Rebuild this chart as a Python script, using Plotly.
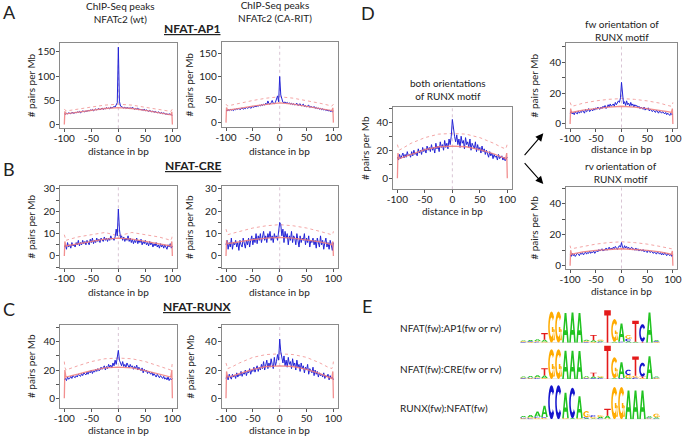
import math
import plotly.graph_objects as go

W, H = 683, 436
FONT = "Lato, 'Open Sans', sans-serif"

# ---------------- data ----------------
dist = list(range(-100, 101, 2))
exp_dist = [-100, -99, -97, -90, -75, -50, -25, 0, 25, 50, 75, 90, 97, 99, 100]

ap1_wt_obs = [22, 21, 23, 22, 24, 23, 22, 25, 24, 23, 25,
              24, 26, 25, 27, 24, 26, 28, 27, 26, 28,
              27, 29, 28, 30, 29, 31, 28, 30, 32, 30,
              31, 33, 30, 32, 34, 31, 33, 32, 35, 33,
              34, 32, 36, 34, 35, 37, 36, 40, 45,
              160,
              48, 38, 36, 35, 34, 36, 33, 35, 34,
              33, 35, 32, 36, 34, 31, 33, 32, 34, 30,
              32, 30, 31, 29, 32, 28, 30, 29, 27, 29,
              28, 26, 28, 25, 27, 26, 24, 26, 25, 23,
              25, 22, 24, 23, 21, 22, 20, 22, 21, 20, 19]
ap1_wt_exp = [0, 27, 22, 23, 26, 30, 33, 35, 33, 29, 25, 22, 20, 26, 0]
ap1_wt_up = [32, 30, 28, 29, 32, 36, 40, 42, 40, 36, 32, 29, 27, 30, 32]

ap1_ca_obs = [27, 25, 28, 26, 29, 27, 28, 26, 29, 28, 30,
              29, 31, 28, 30, 32, 29, 31, 30, 33, 31,
              32, 34, 31, 33, 35, 33, 36, 34, 37, 35,
              38, 36, 39, 37, 40, 38, 42, 39, 47, 41,
              40, 43, 48, 42, 41, 44, 50, 58, 45,
              100,
              60, 48, 44, 43, 45, 42, 44, 41, 43,
              40, 42, 39, 41, 38, 40, 42, 37, 39, 41,
              36, 38, 40, 35, 37, 34, 36, 38, 33, 35,
              34, 32, 35, 31, 33, 30, 32, 29, 31, 28,
              30, 27, 29, 26, 28, 25, 27, 24, 26, 23, 25]
ap1_ca_exp = [0, 33, 27, 28, 31, 36, 40, 43, 40, 35, 31, 28, 26, 32, 0]
ap1_ca_up = [40, 38, 36, 38, 42, 48, 53, 56, 53, 48, 42, 38, 36, 38, 40]

cre_wt_obs = [4, 5, 3, 6, 4, 5, 3.5, 6, 4.5, 5, 4,
              6, 5, 7, 4.5, 6, 5, 7, 5.5, 6.5, 5,
              7, 6, 5, 7.5, 6, 8, 5.5, 7, 6, 8,
              6.5, 7.5, 6, 8, 7, 6.5, 8.5, 7, 8, 6.5,
              8, 7, 9, 7.5, 8, 7, 8.5, 12, 9,
              21,
              12, 8, 9, 7, 8.5, 6.5, 8, 7, 9,
              6.5, 8, 6, 7.5, 5.5, 7, 6, 8, 5.5, 7,
              6, 7.5, 5, 6.5, 5.5, 7, 5, 6, 4.5, 6.5,
              5, 6, 4, 5.5, 4.5, 6, 4, 5, 3.5, 5.5,
              4, 5, 3.5, 5, 4, 3, 5, 4, 5.5, 3.5, 4.5]
cre_wt_exp = [0, 6.5, 4.5, 4.8, 5.5, 6.5, 7.5, 8, 7.5, 6.5, 5.5, 4.8, 4.5, 6.5, 0]
cre_wt_up = [9.5, 8, 7, 7.5, 8.5, 9.5, 10.5, 9, 10.5, 9.5, 8.5, 7.5, 7, 8, 10]

cre_ca_obs = [5, 7, 3, 6, 4, 8, 3, 6, 5, 7, 4,
              6, 2.5, 7, 5, 4, 8, 6, 3.5, 7, 5,
              8, 4, 7, 9, 5, 8, 6, 10, 5.5, 9,
              7, 10, 6, 9, 11, 7, 9, 6, 10, 8,
              11, 7, 9, 6, 10, 8, 9, 7, 12,
              15,
              14, 9, 12, 6, 11, 8, 10, 5, 9,
              7, 11, 6, 9, 8, 5, 10, 7, 4, 9,
              6, 8, 7, 10, 5, 8, 6, 9, 4, 7,
              6, 8, 5, 7, 3.5, 8, 6, 4, 9, 5,
              7, 3, 6, 8, 4, 6, 3, 7, 5, 2.5, 6]
cre_ca_exp = [0, 7, 5.5, 5.8, 6.5, 7.3, 8, 8.3, 8, 7.3, 6.3, 5.5, 5, 6.5, 0]
cre_ca_up = [12, 11, 9.5, 10, 11, 12.5, 13.5, 14, 13.5, 12.5, 11, 10, 9.5, 10, 11]

runx_wt_obs = [13, 14, 12.5, 15, 13.5, 14, 15.5, 14, 16, 15, 14.5,
               16, 15, 17, 16, 15.5, 17.5, 16, 18, 17, 16.5,
               18.5, 17, 19, 18, 20, 17.5, 19.5, 18.5, 20.5, 19,
               21, 19.5, 20, 22, 20.5, 21.5, 23, 20, 22.5, 21,
               24, 22, 23.5, 21.5, 25, 23, 27, 24, 28,
               34,
               27, 25, 23, 26, 22.5, 24, 22, 25, 23,
               21.5, 24, 22, 23, 20.5, 22.5, 21, 23.5, 20, 22,
               21, 19.5, 21.5, 18, 20.5, 19, 20, 17.5, 19, 18,
               17, 18.5, 16, 17.5, 16.5, 15, 17, 16, 14.5, 16,
               15, 14, 15.5, 13.5, 14.5, 13, 15, 12.5, 14, 13, 14]
runx_wt_exp = [0, 20, 15, 15.5, 17, 19.5, 21.5, 22, 21.5, 19.5, 17, 15.5, 15, 20, 0]
runx_wt_up = [26, 22, 20, 21, 23, 26, 28, 28.5, 28, 26, 23, 21, 20, 22, 26]

runx_ca_obs = [14, 16, 13, 17, 15, 13.5, 17, 15, 16.5, 14, 18,
               15, 17, 16, 19, 15.5, 18, 17, 20, 16, 19,
               18, 21, 17, 20, 19, 22, 18.5, 21, 23, 19,
               22, 20, 24, 21, 26, 20, 23, 27, 21, 25,
               22, 28, 24, 21, 29, 23, 26, 31, 27,
               42,
               33, 28, 25, 30, 23, 27, 22, 29, 24,
               26, 21, 28, 23, 25, 20, 27, 22, 24, 19,
               25, 21, 23, 18, 22, 20, 24, 17, 21, 19,
               18, 22, 16, 20, 17, 19, 15, 18, 16, 17,
               15, 18, 14, 16, 15, 17, 13, 16, 14, 15, 13]
runx_ca_exp = [0, 19, 15, 15.5, 17.5, 20.5, 22.5, 23, 22.5, 20.5, 17.5, 15, 14, 19, 0]
runx_ca_up = [25, 23, 21, 22, 25, 29, 31, 31.5, 31, 29, 25, 22, 21, 23, 26]

both_obs = [15, 13, 17, 14, 16, 18, 14.5, 17, 15, 19, 16,
            17, 15, 19, 16, 20, 17, 18, 16, 21, 18,
            20, 17, 22, 19, 21, 18, 23, 20, 22, 19,
            24, 20, 22, 18, 25, 21, 23, 19, 26, 22,
            24, 20, 27, 22, 25, 21, 28, 24, 30,
            42,
            35, 30, 26, 31, 24, 28, 22, 30, 25,
            27, 21, 29, 24, 26, 22, 28, 20, 25, 23,
            21, 26, 19, 24, 20, 22, 18, 23, 19, 21,
            17, 20, 18, 15, 19, 16, 18, 14, 17, 15,
            16, 13, 17, 14, 15, 16, 13, 15, 12.5, 14, 15]
both_exp = [0, 18, 14, 15, 17.5, 20.5, 22.5, 23, 22.5, 20.5, 17.5, 15, 14, 18, 0]
both_up = [24, 22, 20, 21.5, 25, 29, 31.5, 32, 31.5, 29, 25, 22, 21, 23, 25]

fw_obs = [7, 8, 6.5, 7.5, 6, 8, 7, 6.5, 8.5, 7, 8,
          7.5, 9, 8, 7, 9.5, 8, 8.5, 10, 8, 9,
          9.5, 8.5, 10, 9, 10.5, 9.5, 11, 10, 9.5, 11,
          10, 11.5, 10.5, 12, 10, 11, 12.5, 11, 13, 11.5,
          12, 13, 11.5, 14, 12.5, 13.5, 15, 14, 17,
          27,
          16, 13, 14.5, 12, 15, 12.5, 13.5, 11.5, 14,
          12, 13, 11, 12.5, 11.5, 12, 10.5, 11.5, 10, 11,
          10.5, 9.5, 11, 9, 10, 9.5, 10.5, 8.5, 9.5, 9,
          8, 9, 8.5, 7.5, 9, 8, 7, 8.5, 7.5, 7,
          8, 7, 6.5, 7.5, 6, 7, 6.5, 5.5, 7, 6, 6.5]
fw_exp = [0, 10, 7.5, 8, 9, 10, 11, 11.5, 11, 10, 9, 8, 7.5, 10, 0]
fw_up = [14, 12.5, 11.5, 12, 13.5, 15, 16, 16.5, 16, 15, 13.5, 12, 11.5, 12.5, 14]

rv_obs = [7, 6, 8, 6.5, 7.5, 6, 7, 8, 7.5, 6.5, 8,
          7.5, 8.5, 7, 8, 9, 7.5, 8.5, 8, 9.5, 8,
          9, 8.5, 9.5, 8, 9, 10, 9, 10.5, 9.5, 10,
          11, 9.5, 10.5, 10, 11.5, 10, 11, 12, 10.5, 11.5,
          10.5, 12, 11, 12.5, 11.5, 10.5, 12, 13, 12,
          15,
          12, 11, 13, 11.5, 12.5, 11, 12, 10.5, 11.5,
          12, 10.5, 11, 10, 11.5, 10, 11, 9.5, 10.5, 10,
          9.5, 10.5, 9, 10, 9.5, 8.5, 10, 9, 8.5, 9.5,
          9, 8, 9, 8.5, 7.5, 9, 8, 7.5, 8.5, 7,
          8, 7, 8.5, 7.5, 6.5, 8, 7, 6.5, 7.5, 6, 7]
rv_exp = [0, 10, 7.5, 8, 9, 10, 10.5, 11, 10.5, 10, 9, 8, 7.5, 9.5, 0]
rv_up = [13, 11.5, 11, 11.5, 12.5, 14, 15, 15.5, 15, 14, 12.5, 11.5, 11, 11.5, 13]

dist_ticks = [-100, -50, 0, 50, 100]
dist_labels = ["-100", "-50", "0", "50", "100"]
ap1_ticks = [0, 50, 100, 150]
ap1_labels = ["0", "50", "100", "150"]
cre_ticks = [-5, 0, 5, 10, 15, 20, 25, 30]
cre_labels = ["", "0", "", "10", "", "20", "", "30"]
runx_ticks = [0, 10, 20, 30, 40, 50]
runx_labels = ["0", "", "20", "", "40", ""]

# sequence logos: columns bottom-to-top of (base, bits)
logo_ap1 = [
    [("C", 0.04), ("G", 0.04), ("A", 0.05)],
    [("G", 0.04), ("C", 0.04), ("A", 0.07)],
    [("C", 0.05), ("G", 0.05), ("A", 0.1)],
    [("G", 0.05), ("A", 0.12), ("T", 0.38)],
    [("G", 1.78)], [("G", 1.78)],
    [("A", 1.7)], [("A", 1.72)], [("A", 1.7)],
    [("C", 0.04), ("G", 0.05), ("A", 0.08)],
    [("G", 0.04), ("A", 0.1), ("T", 0.3)],
    [("C", 0.05), ("A", 0.06), ("G", 0.06)],
    [("T", 1.85)],
    [("A", 0.05), ("G", 1.3)],
    [("C", 0.05), ("A", 1.05)],
    [("A", 0.08), ("C", 0.15), ("G", 0.2)],
    [("A", 0.06), ("T", 1.2)],
    [("T", 0.06), ("C", 1.0)],
    [("A", 1.72)],
    [("G", 0.04), ("C", 0.04), ("A", 0.06)],
]
logo_cre = [
    [("C", 0.04), ("G", 0.04), ("A", 0.06)],
    [("G", 0.04), ("C", 0.05), ("A", 0.08)],
    [("C", 0.05), ("G", 0.05), ("A", 0.12)],
    [("G", 0.05), ("A", 0.15), ("T", 0.42)],
    [("G", 1.7)], [("G", 1.7)],
    [("A", 1.62)], [("A", 1.62)], [("A", 1.6)],
    [("C", 0.04), ("G", 0.05), ("A", 0.07)],
    [("C", 0.04), ("A", 0.1), ("T", 0.22)],
    [("C", 0.05), ("A", 0.05), ("G", 0.06)],
    [("T", 1.9)],
    [("A", 0.04), ("G", 1.2)],
    [("C", 0.05), ("A", 0.9)],
    [("A", 0.05), ("G", 0.18), ("C", 0.3)],
    [("C", 0.08), ("G", 0.1), ("T", 1.1)],
    [("G", 0.05), ("T", 0.08), ("C", 0.8)],
    [("A", 1.3)],
    [("G", 0.04), ("C", 0.04), ("A", 0.06)],
]
logo_runx = [
    [("G", 0.06), ("C", 0.05), ("A", 0.08)],
    [("C", 0.06), ("G", 0.06), ("A", 0.12)],
    [("G", 0.08), ("C", 0.06), ("A", 0.3)],
    [("G", 0.08), ("C", 0.05), ("A", 0.65)],
    [("C", 1.95)], [("C", 1.95)],
    [("G", 0.06), ("A", 1.45)],
    [("A", 0.06), ("C", 1.75)],
    [("G", 0.06), ("A", 1.25)],
    [("A", 0.06), ("C", 0.06), ("G", 0.35)],
    [("A", 0.05), ("G", 0.08), ("C", 0.1)],
    [("C", 0.06), ("A", 0.08), ("G", 0.1)],
    [("G", 0.05), ("A", 0.15), ("T", 0.4)],
    [("G", 1.85)], [("G", 1.85)],
    [("A", 1.65)], [("A", 1.65)], [("A", 1.65)],
    [("G", 0.05), ("C", 0.05), ("A", 0.08)],
    [("C", 0.04), ("A", 0.08), ("G", 0.2)],
]
logo_names = ["NFAT(fw):AP1(fw or rv)", "NFAT(fw):CRE(fw or rv)", "RUNX(fw):NFAT(fw)"]

# ---------------- helpers ----------------
def px(x):
    return x / W

def py(y):
    return 1 - y / H

BASE_COL = {"A": "#22c322", "C": "#1414cc", "G": "#ffab00", "T": "#e41a1a"}

def arc(rx, ry, a0, a1, n=18):
    return [(0.5 + rx * math.cos(math.radians(a0 + (a1 - a0) * k / n)),
             0.5 + ry * math.sin(math.radians(a0 + (a1 - a0) * k / n))) for k in range(n + 1)]

GLYPH = {
    "T": [[(0, 1), (1, 1), (1, 0.84), (0.62, 0.84), (0.62, 0), (0.38, 0), (0.38, 0.84), (0, 0.84)]],
    "A": [[(0, 0), (0.36, 1), (0.64, 1), (1, 0), (0.76, 0), (0.67, 0.26), (0.33, 0.26), (0.24, 0)],
          [(0.39, 0.42), (0.61, 0.42), (0.5, 0.76)]],
    "C": [arc(0.5, 0.5, 40, 320) + arc(0.27, 0.31, 320, 40)],
    "G": [arc(0.5, 0.5, 40, 350) + arc(0.27, 0.31, 350, 40),
          [(0.55, 0.34), (1.0, 0.34), (1.0, 0.5), (0.55, 0.5)],
          [(0.78, 0.08), (1.0, 0.08), (1.0, 0.5), (0.78, 0.5)]],
}

def glyph_path(base, x0, x1, y0, y1):
    parts = []
    for poly in GLYPH[base]:
        pts = " L ".join(f"{x0 + (x1 - x0) * u:.4f},{y0 + (y1 - y0) * v:.4f}" for u, v in poly)
        parts.append("M " + pts + " Z")
    return " ".join(parts)

# ---------------- figure ----------------
fig = go.Figure()
layout = {}
shapes = []
annotations = []

def text(t, x, y, size=10, **kw):
    d = dict(text=t, x=px(x), y=py(y), xref="paper", yref="paper", showarrow=False,
             xanchor="center", yanchor="middle",
             font=dict(family=FONT, size=size, color="#222"))
    d.update(kw)
    annotations.append(d)

panels = [
    (ap1_wt_obs, ap1_wt_exp, ap1_wt_up, (60, 176.7), (43.3, 128.3), (-8, 168), ap1_ticks, ap1_labels, 30.5, 150.5),
    (ap1_ca_obs, ap1_ca_exp, ap1_ca_up, (221.7, 337.7), (42.3, 126.8), (-9, 174), ap1_ticks, ap1_labels, 189, 150.5),
    (cre_wt_obs, cre_wt_exp, cre_wt_up, (60, 176.7), (185.5, 268.3), (-5.5, 31.5), cre_ticks, cre_labels, 30.5, 291.7),
    (cre_ca_obs, cre_ca_exp, cre_ca_up, (221.7, 337.7), (185.5, 268.3), (-5.5, 31.5), cre_ticks, cre_labels, 189, 291.7),
    (runx_wt_obs, runx_wt_exp, runx_wt_up, (60, 176.7), (325, 408), (-7, 52), runx_ticks, runx_labels, 30.5, 430),
    (runx_ca_obs, runx_ca_exp, runx_ca_up, (221.7, 337.7), (325, 408), (-7, 52), runx_ticks, runx_labels, 189, 430),
    (both_obs, both_exp, both_up, (393, 511.7), (106.7, 189.3), (-7.9, 51.1), runx_ticks, runx_labels, 365, 210.5),
    (fw_obs, fw_exp, fw_up, (566, 677), (43.3, 127.5), (-2.3, 52.4), runx_ticks, runx_labels, 534, 148.8),
    (rv_obs, rv_exp, rv_up, (566, 677), (186.7, 268.5), (-1.8, 51.2), runx_ticks, runx_labels, 534, 290.5),
]

tickfont = dict(family=FONT, size=10, color="#222")
for i, (obs, exp_, up, xd, yd, yr, yt, yl, ytitle_x, xtitle_y) in enumerate(panels, start=1):
    sx = "" if i == 1 else str(i)
    xr, yrf = "x" + sx, "y" + sx
    fig.add_trace(go.Scatter(x=exp_dist, y=up, xaxis=xr, yaxis=yrf, mode="lines",
                             line=dict(color="#f4a6a6", width=1, dash="dot"), hoverinfo="skip"))
    fig.add_trace(go.Scatter(x=dist, y=obs, xaxis=xr, yaxis=yrf, mode="lines",
                             line=dict(color="#2323d6", width=1), hoverinfo="skip"))
    fig.add_trace(go.Scatter(x=exp_dist, y=exp_, xaxis=xr, yaxis=yrf, mode="lines",
                             line=dict(color="#f07c7c", width=1.3), opacity=0.85, hoverinfo="skip"))
    layout["xaxis" + sx] = dict(domain=[px(xd[0]), px(xd[1])], range=[-108, 108], anchor=yrf,
                                tickmode="array", tickvals=dist_ticks, ticktext=dist_labels,
                                ticks="outside", ticklen=3, tickcolor="#555", tickfont=tickfont,
                                ticklabelstandoff=-2,
                                showline=True, mirror=True, linecolor="#8a8a8a", linewidth=1,
                                showgrid=False, zeroline=False, fixedrange=True)
    layout["yaxis" + sx] = dict(domain=[py(yd[1]), py(yd[0])], range=list(yr), anchor=xr,
                                tickmode="array", tickvals=yt, ticktext=yl,
                                ticks="outside", ticklen=3, tickcolor="#555", tickfont=tickfont,
                                ticklabelstandoff=-1,
                                showline=True, mirror=True, linecolor="#8a8a8a", linewidth=1,
                                showgrid=False, zeroline=False, fixedrange=True)
    shapes.append(dict(type="line", xref=xr, yref=yrf + " domain", x0=0, x1=0, y0=0, y1=1,
                       line=dict(color="#d9c4d4", width=1, dash="dot"), layer="below"))
    text("# pairs per Mb", ytitle_x, (yd[0] + yd[1]) / 2, textangle=-90)
    text("distance in bp", (xd[0] + xd[1]) / 2, xtitle_y)

# logos
logo_bands = [(306.8, 342.7), (343.1, 379.0), (383.4, 419.3)]
for j, (cols, band) in enumerate(zip([logo_ap1, logo_cre, logo_runx], logo_bands)):
    idx = 10 + j
    xr, yrf = f"x{idx}", f"y{idx}"
    layout[f"xaxis{idx}"] = dict(domain=[px(520), px(667)], range=[-0.5, 20.5], anchor=yrf,
                                 visible=False, fixedrange=True)
    layout[f"yaxis{idx}"] = dict(domain=[py(band[1]), py(band[0])], range=[0, 2.05], anchor=xr,
                                 visible=False, fixedrange=True)
    fig.add_trace(go.Scatter(x=[-0.5, len(cols) - 0.5], y=[0, 0], xaxis=xr, yaxis=yrf, mode="lines",
                             line=dict(color="#c8c8c8", width=0.8), hoverinfo="skip"))
    for k, col in enumerate(cols):
        y0 = 0.0
        for base, h in col:
            shapes.append(dict(type="path", xref=xr, yref=yrf,
                               path=glyph_path(base, k - 0.47, k + 0.47, y0, y0 + h),
                               fillcolor=BASE_COL[base], line=dict(width=0)))
            y0 += h

text("ChIP-Seq peaks<br>NFATc2 (wt)", 120, 12.5)
text("ChIP-Seq peaks<br>NFATc2 (CA-RIT)", 275, 11.5)
text("<b><u>NFAT-AP1</u></b>", 192.5, 29, size=12)
text("<b><u>NFAT-CRE</u></b>", 192.5, 165, size=12)
text("<b><u>NFAT-RUNX</u></b>", 197, 306.7, size=12)
text("A", 9, 12, size=18)
text("B", 9, 168.5, size=18)
text("C", 9, 308.5, size=18)
text("D", 368, 12.5, size=18)
text("E", 367.5, 306, size=18)
text("both orientations<br>of RUNX motif", 448.3, 89)
text("fw orientation of<br>RUNX motif", 622, 30)
text("rv orientation of<br>RUNX motif", 621, 172.7)
for name, yy in zip(logo_names, [328.3, 369, 408.3]):
    text(name, 398.3, yy, xanchor="left")

annotations.append(dict(text="", x=px(543.3), y=py(133.3), ax=523.3 - 543.3, ay=156.7 - 133.3,
                        xref="paper", yref="paper", showarrow=True, arrowhead=2, arrowsize=1.4,
                        arrowwidth=1.1, arrowcolor="#000"))
annotations.append(dict(text="", x=px(543.3), y=py(184), ax=523.3 - 543.3, ay=161.7 - 184,
                        xref="paper", yref="paper", showarrow=True, arrowhead=2, arrowsize=1.4,
                        arrowwidth=1.1, arrowcolor="#000"))

fig.update_layout(width=W, height=H, margin=dict(l=0, r=0, t=0, b=0, autoexpand=False),
                  paper_bgcolor="white", plot_bgcolor="white", showlegend=False,
                  shapes=shapes, annotations=annotations, **layout)
fig.write_html("out.html", config={"displayModeBar": False},
               post_script="document.body.style.margin='0px';")
